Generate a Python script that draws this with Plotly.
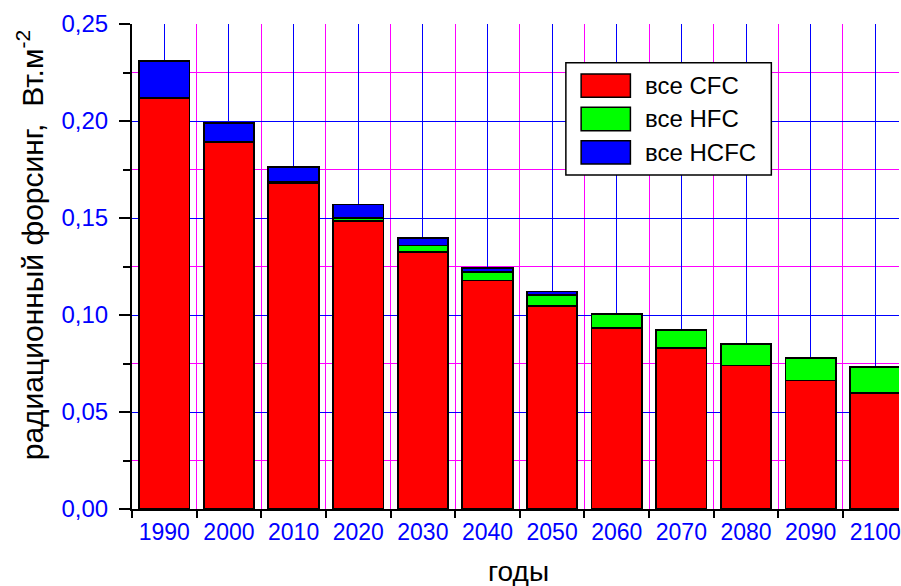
import plotly.graph_objects as go

years = ["1990", "2000", "2010", "2020", "2030", "2040", "2050", "2060", "2070", "2080", "2090", "2100"]
cfc = [0.212, 0.189, 0.168, 0.1485, 0.1323, 0.1178, 0.1048, 0.0933, 0.0830, 0.0740, 0.0662, 0.0600]
hfc = [0.0, 0.0, 0.0008, 0.0015, 0.0035, 0.0044, 0.0055, 0.0072, 0.0091, 0.0109, 0.0118, 0.0134]
hcfc = [0.0188, 0.0099, 0.0073, 0.0070, 0.0039, 0.0022, 0.0018, 0.0, 0.0, 0.0, 0.0, 0.0]
series_names = ["все CFC", "все HFC", "все HCFC"]
series_colors = ["#FF0000", "#00FF00", "#0000FF"]
y_title = "радиационный форсинг,  Вт.м<sup>-2</sup>"
x_title = "годы"

FONT = "Liberation Sans, Arial, sans-serif"
W, H = 901, 586
ML, MR, MT, MB = 132, 0, 24, 77
PW = W - ML - MR
PH = H - MT - MB


def px(x):
    return (x - ML) / PW


def py(y):
    return (H - MB - y) / PH


xs = list(range(len(years)))
fig = go.Figure()
for name, vals, col in zip(series_names, [cfc, hfc, hcfc], series_colors):
    fig.add_trace(go.Bar(
        x=xs, y=vals, name=name, width=0.78,
        marker=dict(color=col, line=dict(color="black", width=1.8)),
        showlegend=False,
    ))

fig.update_layout(
    width=W, height=H,
    margin=dict(l=ML, r=MR, t=MT, b=MB, pad=0),
    barmode="stack",
    plot_bgcolor="white", paper_bgcolor="white",
    separators=", ",
    font=dict(family=FONT, color="black"),
    xaxis=dict(
        range=[-0.5, -0.5 + PW / 64.8],
        tickmode="array", tickvals=xs, ticktext=years,
        ticks="", showgrid=True, gridcolor="#0000FF", gridwidth=1,
        tickfont=dict(size=23, color="#0000FF", family=FONT),
        showline=True, linecolor="black", linewidth=2,
        zeroline=False, ticklabelstandoff=1, ticklabeloverflow="allow",
        minor=dict(tickmode="array", tickvals=[i - 0.5 for i in range(len(years) + 1)],
                   ticks="outside", ticklen=7, tickwidth=2, tickcolor="black",
                   showgrid=True, gridcolor="#FF00FF", gridwidth=1),
    ),
    yaxis=dict(
        range=[0, 0.25], tickmode="linear", tick0=0, dtick=0.05, tickformat=".2f",
        ticks="outside", ticklen=11, tickwidth=2, tickcolor="black",
        showgrid=True, gridcolor="#0000FF", gridwidth=1,
        tickfont=dict(size=24, color="#0000FF", family=FONT),
        showline=True, linecolor="black", linewidth=2, zeroline=False,
        ticklabelstandoff=6,
        minor=dict(tickmode="linear", tick0=0.025, dtick=0.05,
                   ticks="outside", ticklen=7, tickwidth=2, tickcolor="black",
                   showgrid=True, gridcolor="#FF00FF", gridwidth=1),
    ),
)

# legend drawn manually (large swatches as in the reference)
shapes = [dict(type="rect", xref="paper", yref="paper",
               x0=px(567), x1=px(773), y0=py(175), y1=py(62.7),
               fillcolor="white", line=dict(color="black", width=1.5), layer="above")]
rows = [(74, 97.3), (107.3, 130.7), (140.7, 164)]
annotations = []
for (t, b), name, col in zip(rows, series_names, series_colors):
    shapes.append(dict(type="rect", xref="paper", yref="paper",
                       x0=px(582.3), x1=px(631.7), y0=py(b), y1=py(t),
                       fillcolor=col, line=dict(color="black", width=1.5), layer="above"))
    annotations.append(dict(xref="paper", yref="paper", x=px(644), y=py((t + b) / 2),
                            xanchor="left", yanchor="middle", text=name, showarrow=False,
                            font=dict(size=24, color="black", family=FONT)))

annotations.append(dict(xref="paper", yref="paper", x=px(30), y=py(245), textangle=-90,
                        xanchor="center", yanchor="middle", text=y_title, showarrow=False,
                        font=dict(size=30, color="black", family=FONT)))
annotations.append(dict(xref="paper", yref="paper", x=px(520), y=py(571),
                        xanchor="center", yanchor="middle", text=x_title, showarrow=False,
                        font=dict(size=28, color="black", family=FONT)))
fig.update_layout(shapes=shapes, annotations=annotations)

fig.write_html("out.html", config={"displayModeBar": False},
               post_script="document.body.style.margin='0';document.body.style.overflow='hidden';")
